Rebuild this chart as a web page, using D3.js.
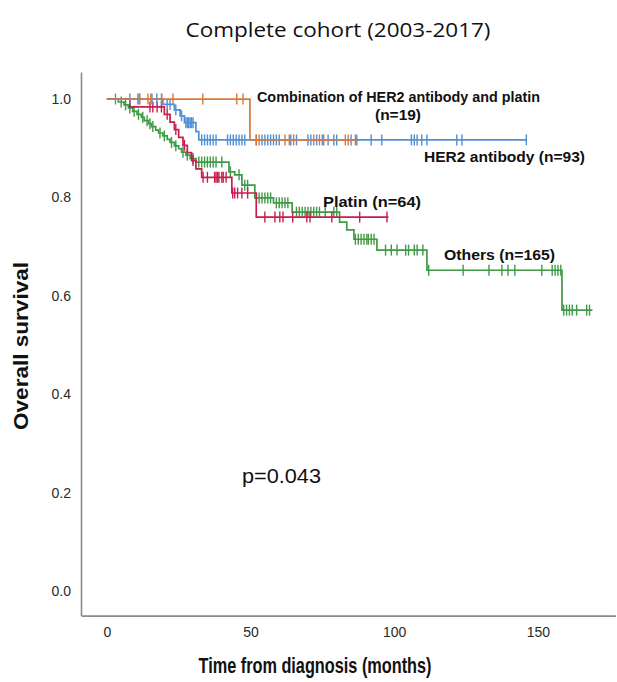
<!DOCTYPE html>
<html><head><meta charset="utf-8">
<script src="https://cdn.jsdelivr.net/npm/d3@7"></script>
<style>
body{margin:0;background:#fff;}
svg{display:block;}
</style></head>
<body>
<svg id="c" width="617" height="682"></svg>
<script>
// ---- data (months, overall survival) ----
const xTicks = [0, 50, 100, 150];
const yTicks = [0.0, 0.2, 0.4, 0.6, 0.8, 1.0];

// Combination of HER2 antibody and platin (n=19)
const comboSteps = [[0,1.0],[49.8,0.917]];
const comboEnd = 87;
const comboCensor = [11.5,14.3,15.3,19.1,23,33.4,45.2,47.4,52,53,62,63.5,65,72,74,75.5,83,84,86.5];

// HER2 antibody (n=93)
const herSteps = [[0,1.0],[19.5,0.989],[23.5,0.978],[25.5,0.966],[27,0.952],[31,0.934],[32,0.917]];
const herEnd = 146;
const herCensor = [3,8,10.8,11.2,15.7,17.4,19,21,22,24,26,27.5,28,28.5,29,29.5,30,
  33,34,35,36,37,38,42,43,44,45,46,47,48,52,54,55,56,57,58,59,60,64,66,70,71,73,75,77,79,80,
  85,87,92,95.7,106,107,108,109.6,111.4,121.8,123.6,146];

// Platin (n=64)
const platSteps = [[0,1.0],[8,0.984],[20,0.969],[22,0.953],[23.5,0.938],[25,0.922],[26.5,0.906],
  [28,0.891],[29.5,0.875],[31,0.858],[33,0.841],[43.5,0.809],[52,0.760]];
const platEnd = 98;
const platCensor = [15,16,17.5,19,21,24,27,30,33.5,35,37.5,38,38.5,39,40,40.5,41.5,
  43.8,44.5,45.5,47,49,55,58.5,60.2,61.3,64.7,69.6,70.7,78.3,88,97.5];

// Others (n=165)
const othSteps = [[0,1.0],[4,0.994],[6,0.988],[7.5,0.982],[9,0.975],[10.5,0.969],[12,0.963],[13,0.956],
  [14.5,0.950],[15.5,0.944],[17,0.937],[18,0.931],[19.5,0.925],[21,0.918],[22,0.912],[23.5,0.905],
  [25,0.899],[26,0.892],[27.5,0.886],[29,0.879],[31,0.872],[42.5,0.852],[44.5,0.846],[47,0.825],
  [51.5,0.799],[58,0.789],[64.5,0.770],[81,0.750],[83.5,0.734],[86,0.715],[94,0.693],[111.4,0.652],[158.4,0.571]];
const othEnd = 169;
const othCensor = [5,6.5,8,9.5,11,12.5,14,15,16,18.5,20,22.5,24,26.5,28,30,32,33,34,35,36,37,38,40,
  43,46,48,49,53,54,55,56,57,59,60,61,62,63,66,67,68,69,70,71,72,73,74,76,79,80,
  86.5,87.5,88.5,89.5,90.5,91,92,93,97,99,101,104,105,107,108,110,112,124,133,137.5,139.6,142,151.4,
  155,156,157,158,159,160,161,162,163.5,167,168];

const groups = [
  {name:"Others", steps:othSteps, end:othEnd, censor:othCensor, color:"#3f9a45"},
  {name:"Platin", steps:platSteps, end:platEnd, censor:platCensor, color:"#c81e4e"},
  {name:"HER2 antibody", steps:herSteps, end:herEnd, censor:herCensor, color:"#4f8fd6"},
  {name:"Combination", steps:comboSteps, end:comboEnd, censor:comboCensor, color:"#d9783c"}
];

// ---- scales ----
const svg = d3.select("#c");
const x = d3.scaleLinear().domain([-9, 177]).range([81, 615.4]);
const y = d3.scaleLinear().domain([-0.05, 1.055]).range([615.6, 72]);

// ---- axes ----
const axisColor = "#8a8a8a";
const gx = svg.append("g").attr("transform", `translate(0,${y(-0.05)})`)
  .call(d3.axisBottom(x).tickValues(xTicks).tickFormat(d3.format("d")).tickSize(0).tickSizeOuter(0).tickPadding(11));
const gy = svg.append("g").attr("transform", `translate(${x(-9)},0)`)
  .call(d3.axisLeft(y).tickValues(yTicks).tickFormat(d3.format(".1f")).tickSize(0).tickSizeOuter(0).tickPadding(10));
[gx, gy].forEach(g => {
  g.select(".domain").attr("stroke", axisColor).attr("stroke-width", 1.6);
  g.selectAll("text").attr("font-family", "Liberation Sans, Arial, sans-serif")
    .attr("font-size", 14).attr("fill", "#2a2a2a");
});

// ---- curves ----
function survAt(steps, t){
  let s = steps[0][1];
  for (const [tt, ss] of steps) { if (tt <= t) s = ss; }
  return s;
}
const line = d3.line().x(d => x(d[0])).y(d => y(d[1])).curve(d3.curveStepAfter);
groups.forEach(g => {
  const pts = g.steps.concat([[g.end, g.steps[g.steps.length-1][1]]]);
  svg.append("path").datum(pts).attr("d", line)
    .attr("fill", "none").attr("stroke", g.color).attr("stroke-width", 1.7);
  svg.append("g").selectAll("line").data(g.censor).join("line")
    .attr("x1", d => x(d)).attr("x2", d => x(d))
    .attr("y1", d => y(survAt(g.steps, d)) - 5.5).attr("y2", d => y(survAt(g.steps, d)) + 5.5)
    .attr("stroke", g.color).attr("stroke-width", 1.4);
});

// ---- labels ----
const bold = "Liberation Sans, Arial, sans-serif";
function txt(s, px, py, size, opts = {}) {
  const t = svg.append("text").attr("x", px).attr("y", py).text(s)
    .attr("font-family", opts.family || bold).attr("font-size", size)
    .attr("font-weight", opts.weight || "bold").attr("fill", opts.fill || "#111")
    .attr("text-anchor", opts.anchor || "start").attr("dominant-baseline", "middle");
  if (opts.len) t.attr("textLength", opts.len).attr("lengthAdjust", "spacingAndGlyphs");
  return t;
}
txt("Complete cohort (2003-2017)", 338, 32, 20, {family:"Open Sans, sans-serif", weight:"normal", anchor:"middle", len:305});
txt("Combination of HER2 antibody and platin", 257, 98, 15.5, {len:283});
txt("(n=19)", 398, 116, 15.5, {anchor:"middle", len:46});
txt("HER2 antibody (n=93)", 424, 158, 15.5, {len:161});
txt("Platin (n=64)", 323, 203, 15.5, {len:98});
txt("Others (n=165)", 444, 256, 15.5, {len:111});
txt("p=0.043", 242, 478, 20, {weight:"normal", len:79});
txt("Time from diagnosis (months)", 315, 667, 22, {anchor:"middle", len:233});
txt("Overall survival", 0, 0, 21, {anchor:"middle", len:168})
  .attr("transform", "translate(22,346) rotate(-90)").attr("x", 0).attr("y", 0);
</script>
</body></html>
